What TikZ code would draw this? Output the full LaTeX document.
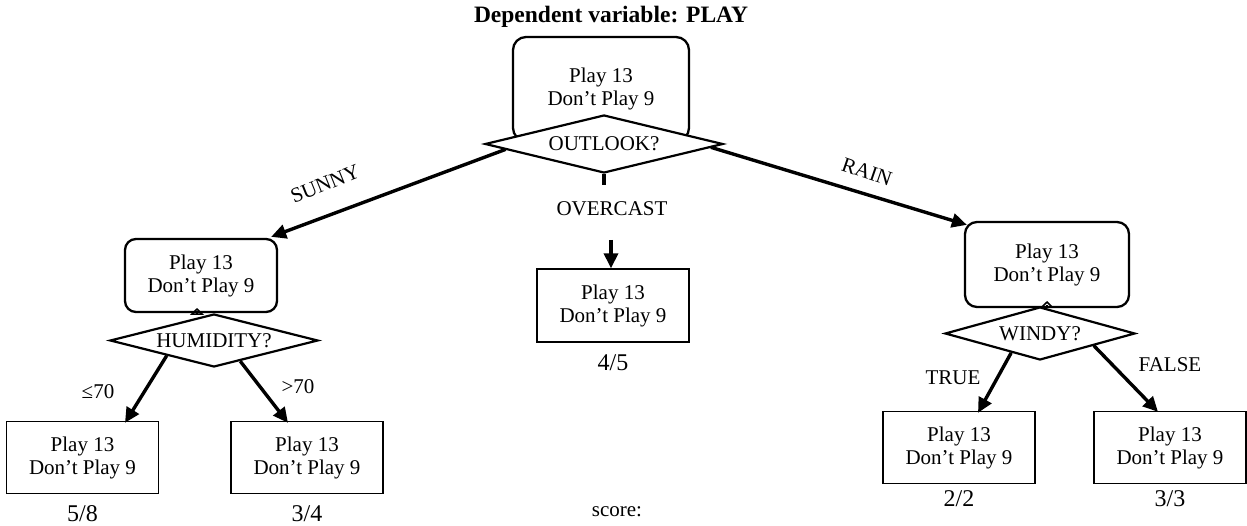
\documentclass[tikz,border=0pt]{standalone}
\usepackage{fontspec}
\setmainfont{Liberation Serif}
\usetikzlibrary{shapes.geometric,arrows.meta,calc}

\begin{document}
\begin{tikzpicture}[x=1pt,y=-1pt,
  every node/.style={font=\fontsize{21}{23}\selectfont, inner sep=0pt},
  leaf/.style={draw, line width=1.3pt, minimum width=152pt, minimum height=72pt, align=center},
  split/.style={draw, fill=white, rounded corners=13pt, line width=2.3pt, align=center},
  test/.style={diamond, draw, fill=white, line width=2.2pt},
  edge/.style={line width=3.4pt, -{Triangle[length=15pt,width=14pt]}},
  stub/.style={line width=3.4pt},
  nub/.style={line width=1.6pt, -{Triangle[open,length=7pt,width=14pt]}},
  score/.style={font=\fontsize{24}{26}\selectfont},
]
\useasboundingbox (0,0) rectangle (1247,526);

% title
\node[font=\bfseries\fontsize{23.5}{26}\selectfont] (title) at (611,17) {Dependent variable: PLAY};

% root split
\node[split, minimum width=176pt, minimum height=104pt] (root) at (601,89) {Play 13\\Don’t Play 9};
\node[test, minimum width=238pt, minimum height=58pt] (outlook) at (604,144) {};
\node (outlooklbl) at (outlook.center) {OUTLOOK?};

% sunny branch
\node[split, rounded corners=11pt, minimum width=152pt, minimum height=73pt] (sunny) at (201,275.5) {Play 13\\Don’t Play 9};
\node[test, minimum width=208pt, minimum height=53pt] (humidity) at (214,340.5) {};
\node (humiditylbl) at (humidity.center) {HUMIDITY?};
\coordinate (humtip) at (197,308);
\draw[nub] ([yshift=-4pt]humtip) -- (humtip);

% overcast leaf
\node[leaf, minimum height=73pt] (overcast) at (613,305.5) {Play 13\\Don’t Play 9};
\node[score, anchor=north] (s45) at (overcast.south) [yshift=-12pt] {4/5};

% rain branch
\node[split, rounded corners=12pt, minimum width=164pt, minimum height=85pt] (rain) at (1047,264.5) {Play 13\\Don’t Play 9};
\node[test, minimum width=190pt, minimum height=53pt] (windy) at (1040,333.5) {};
\node (windylbl) at (windy.center) {WINDY?};
\coordinate (windtip) at (1047,301);
\draw[nub] ([yshift=-4pt]windtip) -- (windtip);

% leaves
\node[leaf] (low) at (82.5,457.5) {Play 13\\Don’t Play 9};
\node[leaf] (high) at (307,457.5) {Play 13\\Don’t Play 9};
\node[leaf] (windt) at (959,447.5) {Play 13\\Don’t Play 9};
\node[leaf] (windf) at (1170,447.5) {Play 13\\Don’t Play 9};

\node[score, anchor=north] (s58) at (low.south) [yshift=-11pt] {5/8};
\node[score, anchor=north] (s34) at (high.south) [yshift=-11pt] {3/4};
\node[score, anchor=north] (s22) at (windt.south) [yshift=-6pt] {2/2};
\node[score, anchor=north] (s33) at (windf.south) [yshift=-6pt] {3/3};
\node (scorelbl) at (617,512) {score:};

% outlook branches
\draw[edge] ($(outlook.west)!0.18!(outlook.south)$) -- ([xshift=-7pt,yshift=1pt]sunny.north east);
\draw[edge] ($(outlook.east)!0.11!(outlook.south)$) -- ([xshift=3pt,yshift=-4pt]rain.north west);
\node[rotate=22] (sunnylbl) at (325,184) {SUNNY};
\node[rotate=-19] (rainlbl) at (867,172) {RAIN};

\node (overcastlbl) at (612,209) {OVERCAST};
\coordinate (ocstub) at (604,185);
\coordinate (octail) at (611,240);
\draw[stub] (outlook.south) -- (ocstub);
\draw[edge] (octail) -- (octail |- overcast.north);

% humidity branches
\draw[edge] ($(humidity.west)!0.55!(humidity.south)$) -- ([xshift=42.5pt,yshift=-2pt]low.north);
\draw[edge] ($(humidity.south)!0.25!(humidity.east)$) -- ([xshift=-19pt,yshift=-2pt]high.north);
\node (lelbl) at (98,392) {≤70};
\node (gtlbl) at (298,387) {>70};

% windy branches
\draw[edge] ($(windy.west)!0.70!(windy.south)$) -- ([xshift=19pt,yshift=-2pt]windt.north);
\draw[edge] ($(windy.south)!0.56!(windy.east)$) -- ([xshift=-12pt,yshift=-1pt]windf.north);
\node (truelbl) at (953,378) {TRUE};
\node (falselbl) at (1170,365) {FALSE};
\end{tikzpicture}
\end{document}
